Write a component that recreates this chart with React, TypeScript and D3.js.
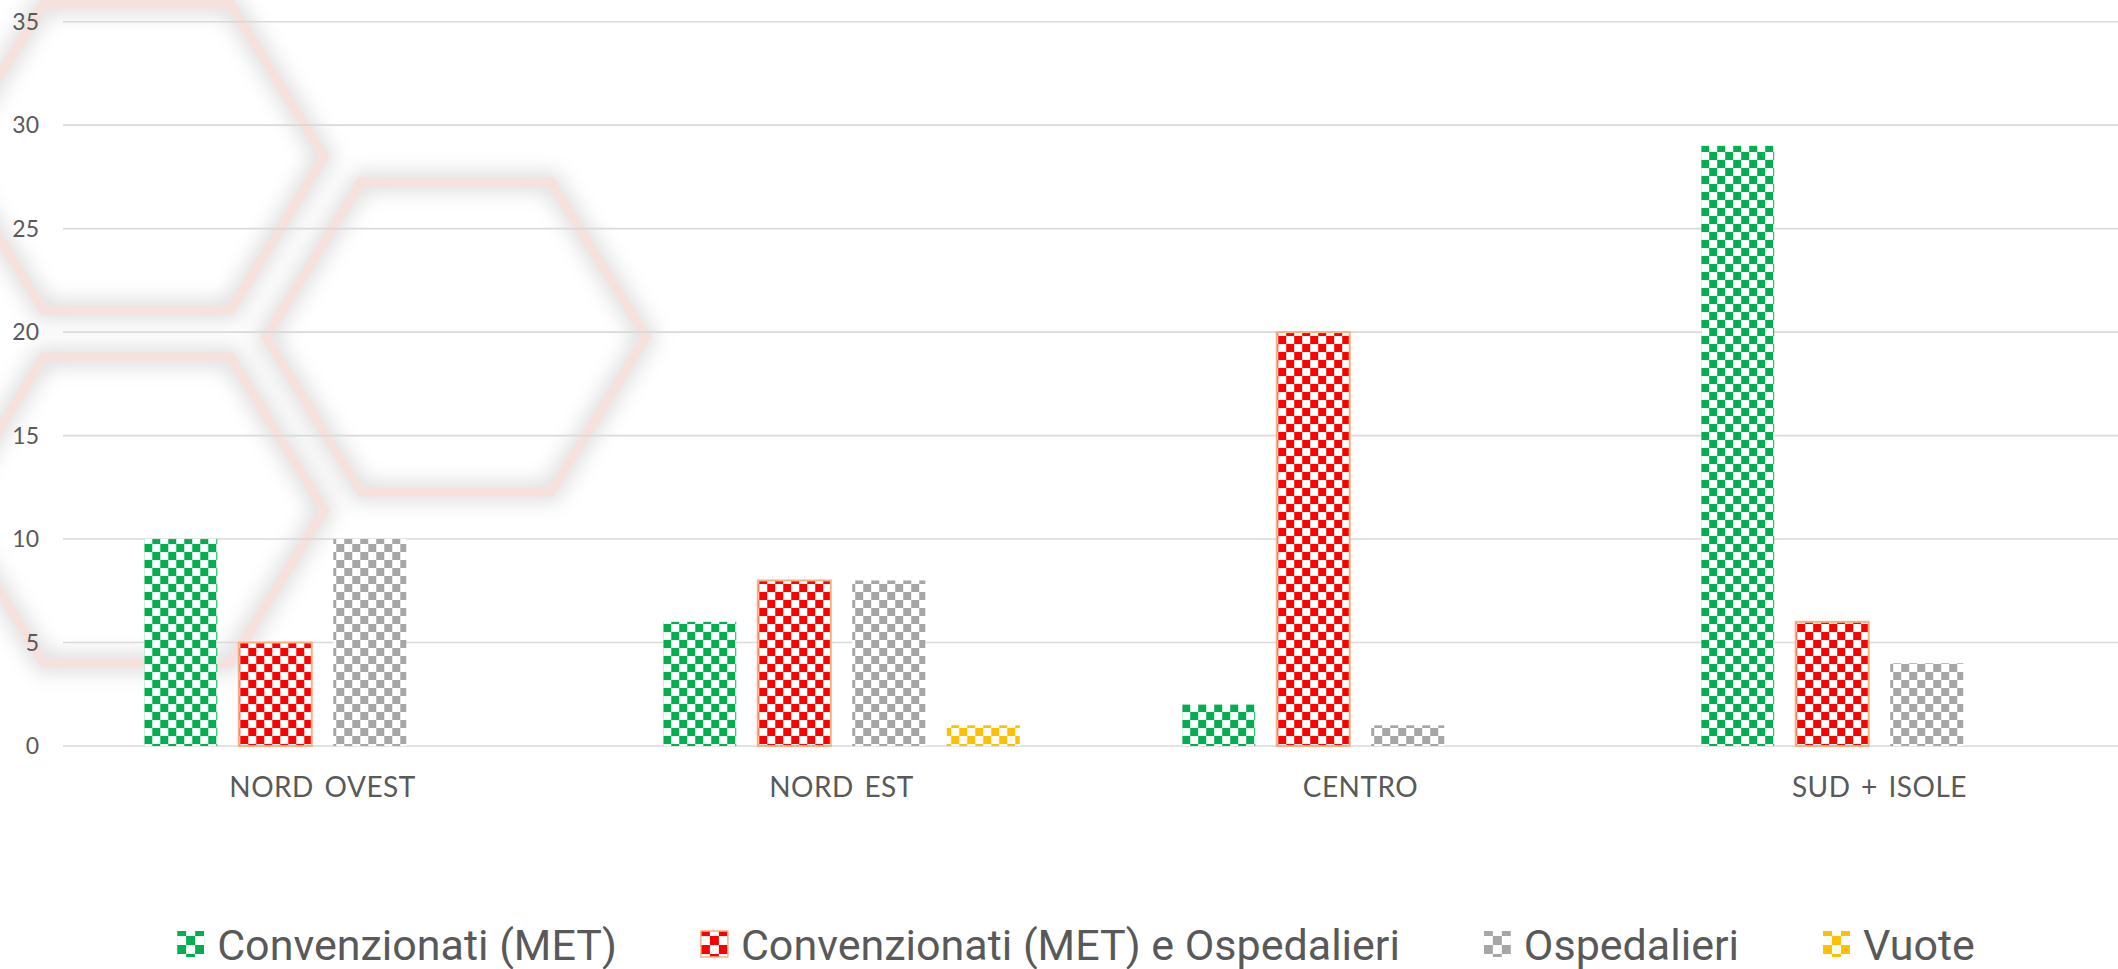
import React, { useEffect, useRef } from "react";
import * as d3 from "d3";

const categories = ["NORD OVEST", "NORD EST", "CENTRO", "SUD + ISOLE"];
const seriesNames = [
  "Convenzionati (MET)",
  "Convenzionati (MET) e Ospedalieri",
  "Ospedalieri",
  "Vuote",
];
const convenzionati = [10, 6, 2, 29];
const convenzionatiOspedalieri = [5, 8, 20, 6];
const ospedalieri = [10, 8, 1, 4];
const vuote = [0, 1, 0, 0];
const yTicks = [0, 5, 10, 15, 20, 25, 30, 35];

const seriesValues = [convenzionati, convenzionatiOspedalieri, ospedalieri, vuote];
const seriesColors = ["#00b050", "#ff0000", "#a6a6a6", "#ffc000"];

const W = 2118;
const H = 969;

// background hexagons (decoration): cx, cy, half width, half height
const hexes = [
  [137, 157, 187, 153],
  [456, 337, 190, 155],
  [137, 510, 187, 153],
];

const App: React.FC = () => {
  const svgRef = useRef<SVGSVGElement>(null);

  useEffect(() => {
    const svg = d3.select(svgRef.current);
    svg.selectAll("*").remove();

    const defs = svg.append("defs");
    seriesColors.forEach((c, i) => {
      const p = defs
        .append("pattern")
        .attr("id", `chk${i}`)
        .attr("patternUnits", "userSpaceOnUse")
        .attr("width", 16)
        .attr("height", 16);
      p.append("rect").attr("width", 16).attr("height", 16).attr("fill", "#fff");
      p.append("rect").attr("width", 8).attr("height", 8).attr("fill", c);
      p.append("rect").attr("x", 8).attr("y", 8).attr("width", 8).attr("height", 8).attr("fill", c);
      const pl = defs
        .append("pattern")
        .attr("id", `chkl${i}`)
        .attr("patternUnits", "userSpaceOnUse")
        .attr("width", 18)
        .attr("height", 18);
      pl.append("rect").attr("width", 18).attr("height", 18).attr("fill", "#fff");
      pl.append("rect").attr("x", 9).attr("width", 9).attr("height", 9).attr("fill", c);
      pl.append("rect").attr("y", 9).attr("width", 9).attr("height", 9).attr("fill", c);
    });
    const blur = defs
      .append("filter")
      .attr("id", "hexShadow")
      .attr("x", "-20%")
      .attr("y", "-20%")
      .attr("width", "140%")
      .attr("height", "140%");
    blur.append("feGaussianBlur").attr("stdDeviation", 10);

    // hexagons
    const hexPts = ([cx, cy, r, h]: number[]) =>
      [
        [cx - r, cy],
        [cx - r / 2, cy - h],
        [cx + r / 2, cy - h],
        [cx + r, cy],
        [cx + r / 2, cy + h],
        [cx - r / 2, cy + h],
      ]
        .map((p) => p.join(","))
        .join(" ");
    const hg = svg.append("g");
    hg.selectAll("polygon.sh")
      .data(hexes)
      .join("polygon")
      .attr("class", "sh")
      .attr("points", (d) => hexPts(d))
      .attr("fill", "none")
      .attr("stroke", "#000")
      .attr("stroke-opacity", 0.13)
      .attr("stroke-width", 20)
      .attr("filter", "url(#hexShadow)");
    hg.selectAll("polygon.hx")
      .data(hexes)
      .join("polygon")
      .attr("class", "hx")
      .attr("points", (d) => hexPts(d))
      .attr("fill", "none")
      .attr("stroke", "#f7e1dd")
      .attr("stroke-width", 9);

    const y = d3.scaleLinear().domain([0, 35]).range([746, 21.7]);
    const x0 = d3
      .scaleBand<string>()
      .domain(categories)
      .range([63, 2139])
      .paddingInner(0.313)
      .paddingOuter(0.1566);
    const x1 = d3
      .scaleBand<string>()
      .domain(seriesNames)
      .range([0, x0.bandwidth()])
      .paddingInner(0.2275);

    // gridlines
    svg
      .append("g")
      .selectAll("line")
      .data(yTicks)
      .join("line")
      .attr("x1", 63)
      .attr("x2", W)
      .attr("y1", (d) => y(d))
      .attr("y2", (d) => y(d))
      .attr("stroke", "#d9d9d9")
      .attr("stroke-width", 1.6);

    svg
      .append("g")
      .selectAll("text")
      .data(yTicks)
      .join("text")
      .attr("x", 39)
      .attr("y", (d) => y(d) + 8)
      .attr("text-anchor", "end")
      .attr("font-family", "Lato")
      .attr("font-size", 23)
      .attr("fill", "#595959")
      .text((d) => d);

    // bars
    const groups = svg
      .append("g")
      .selectAll("g")
      .data(categories)
      .join("g")
      .attr("transform", (d) => `translate(${x0(d)},0)`);
    groups
      .selectAll("rect")
      .data((_, ci) =>
        seriesNames.map((s, si) => ({ s, si, v: seriesValues[si][ci] }))
      )
      .join("rect")
      .filter((d) => d.v > 0)
      .attr("x", (d) => x1(d.s)!)
      .attr("y", (d) => y(d.v))
      .attr("width", x1.bandwidth())
      .attr("height", (d) => y(0) - y(d.v))
      .attr("fill", (d) => `url(#chk${d.si})`)
      .attr("stroke", (d) => (d.si === 1 ? "#f4b183" : "none"))
      .attr("stroke-width", 2);

    // category labels
    svg
      .append("g")
      .selectAll("text")
      .data(categories)
      .join("text")
      .attr("x", (d) => x0(d)! + x0.bandwidth() / 2)
      .attr("y", 797)
      .attr("text-anchor", "middle")
      .attr("font-family", "Lato")
      .attr("font-size", 28)
      .attr("word-spacing", 3)
      .attr("letter-spacing", 0.5)
      .attr("fill", "#595959")
      .text((d) => d);

    // legend
    const lg = svg.append("g");
    const items = lg.selectAll("g").data(seriesNames).join("g");
    items
      .append("rect")
      .attr("y", 931)
      .attr("width", 27)
      .attr("height", 26)
      .attr("fill", (_, i) => `url(#chkl${i})`)
      .attr("stroke", (_, i) => (i === 1 ? "#f4b183" : "none"))
      .attr("stroke-width", 1.5);
    items
      .append("text")
      .attr("x", 40)
      .attr("y", 960)
      .attr("font-family", "Roboto")
      .attr("font-size", 43)
      .attr("fill", "#595959")
      .text((d) => d);
    const widths: number[] = [];
    items.each(function () {
      const t = d3.select(this).select("text").node() as SVGTextElement;
      widths.push(40 + t.getComputedTextLength());
    });
    const gap = 84;
    const total = d3.sum(widths) + gap * (widths.length - 1);
    let cur = 1076 - total / 2;
    items.each(function (_, i) {
      d3.select(this).attr("transform", `translate(${cur},0)`);
      cur += widths[i] + gap;
    });
  }, []);

  return (
    <div style={{ position: "absolute", left: 0, top: 0, width: W, height: H, background: "#fff" }}>
      <svg ref={svgRef} width={W} height={H} />
    </div>
  );
};

export default App;
